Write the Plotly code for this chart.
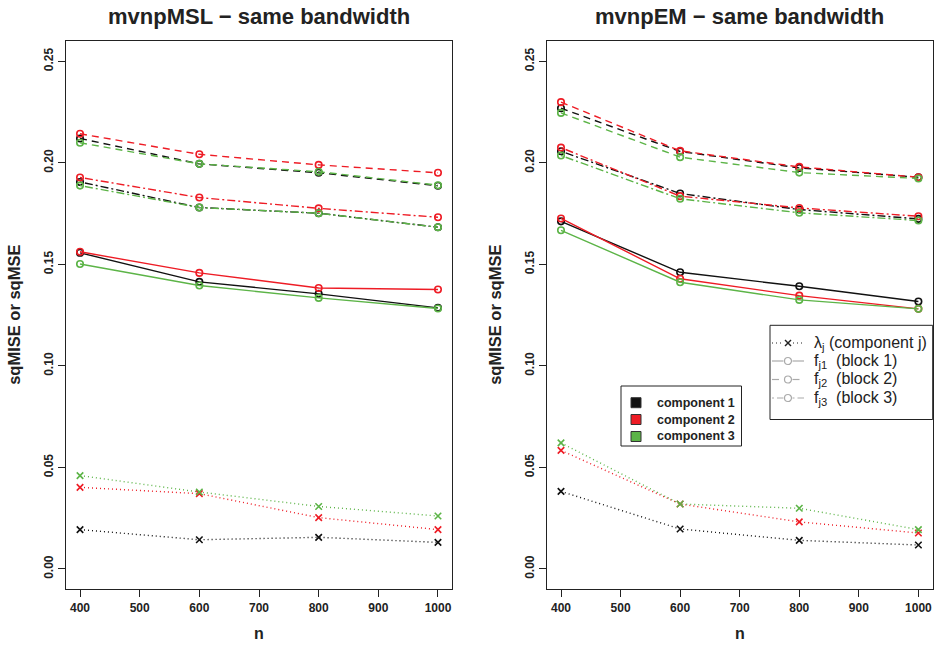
import plotly.graph_objects as go

# sample sizes
n = [400, 600, 800, 1000]

# mvnpMSL, same bandwidth: lambda_j and f_j1..f_j3 errors per component
msl_lambda_c1 = [0.0194, 0.0144, 0.0156, 0.0131]
msl_lambda_c2 = [0.0402, 0.0371, 0.0253, 0.0194]
msl_lambda_c3 = [0.0460, 0.0379, 0.0308, 0.0261]
msl_block1_c1 = [0.1557, 0.1414, 0.1355, 0.1286]
msl_block1_c2 = [0.1562, 0.1458, 0.1384, 0.1376]
msl_block1_c3 = [0.1502, 0.1396, 0.1335, 0.1283]
msl_block2_c1 = [0.2120, 0.1995, 0.1951, 0.1887]
msl_block2_c2 = [0.2143, 0.2042, 0.1990, 0.1951]
msl_block2_c3 = [0.2099, 0.1995, 0.1956, 0.1890]
msl_block3_c1 = [0.1906, 0.1780, 0.1752, 0.1683]
msl_block3_c2 = [0.1928, 0.1829, 0.1776, 0.1732]
msl_block3_c3 = [0.1888, 0.1780, 0.1752, 0.1683]

# mvnpEM, same bandwidth
em_lambda_c1 = [0.0382, 0.0197, 0.0141, 0.0118]
em_lambda_c2 = [0.0584, 0.0320, 0.0232, 0.0177]
em_lambda_c3 = [0.0621, 0.0320, 0.0299, 0.0194]
em_block1_c1 = [0.1712, 0.1461, 0.1392, 0.1317]
em_block1_c2 = [0.1726, 0.1429, 0.1346, 0.1281]
em_block1_c3 = [0.1668, 0.1412, 0.1325, 0.1281]
em_block2_c1 = [0.2269, 0.2056, 0.1975, 0.1929]
em_block2_c2 = [0.2299, 0.2059, 0.1980, 0.1929]
em_block2_c3 = [0.2246, 0.2028, 0.1952, 0.1923]
em_block3_c1 = [0.2057, 0.1849, 0.1770, 0.1724]
em_block3_c2 = [0.2075, 0.1836, 0.1778, 0.1737]
em_block3_c3 = [0.2036, 0.1823, 0.1754, 0.1716]

panel_titles = ["mvnpMSL \u2212 same bandwidth", "mvnpEM \u2212 same bandwidth"]
component_names = ["component 1", "component 2", "component 3"]
block_labels = ["\u03bb<sub>j</sub> (component j)", "f<sub>j1</sub>  (block 1)",
                "f<sub>j2</sub>  (block 2)", "f<sub>j3</sub>  (block 3)"]
y_ticks = [0.00, 0.05, 0.10, 0.15, 0.20, 0.25]
x_ticks = [400, 500, 600, 700, 800, 900, 1000]

COLORS = ["#111111", "#EE1C25", "#5CB447"]
FONT = "Liberation Sans, Arial, Helvetica, sans-serif"
W, H = 935, 649

panels = [
    {"lambda": [msl_lambda_c1, msl_lambda_c2, msl_lambda_c3],
     "b1": [msl_block1_c1, msl_block1_c2, msl_block1_c3],
     "b2": [msl_block2_c1, msl_block2_c2, msl_block2_c3],
     "b3": [msl_block3_c1, msl_block3_c2, msl_block3_c3]},
    {"lambda": [em_lambda_c1, em_lambda_c2, em_lambda_c3],
     "b1": [em_block1_c1, em_block1_c2, em_block1_c3],
     "b2": [em_block2_c1, em_block2_c2, em_block2_c3],
     "b3": [em_block3_c1, em_block3_c2, em_block3_c3]},
]

DASH = {"lambda": "1px,3px", "b1": "solid", "b2": "7px,5px", "b3": "2px,3px,8px,3px"}

fig = go.Figure()

for p, data in enumerate(panels):
    xa = "x" if p == 0 else "x2"
    ya = "y" if p == 0 else "y2"
    for key in ["b1", "b2", "b3", "lambda"]:
        for c in range(3):
            is_lam = key == "lambda"
            fig.add_trace(go.Scatter(
                x=n, y=data[key][c], xaxis=xa, yaxis=ya, mode="lines+markers",
                line=dict(color=COLORS[c], width=1.4, dash=DASH[key]),
                marker=dict(symbol="x-thin-open" if is_lam else "circle-open",
                            size=6.5 if is_lam else 6.5,
                            line=dict(color=COLORS[c], width=1.6)),
                showlegend=False, hoverinfo="skip"))


def px_x(x):
    return x / W


def px_y(y):
    return 1 - y / H


# plot-box geometry (pixels)
boxes = [(65.7, 452.3), (546.7, 932.7)]
top_px, bot_px = 41, 589.3

axis_common = dict(showline=True, mirror=True, linecolor="#222222", linewidth=1,
                   ticks="outside", ticklen=7, tickcolor="#222222", showgrid=False,
                   zeroline=False, tickfont=dict(family=FONT, size=12, color="#222222"))

layout = dict(
    width=W, height=H, margin=dict(l=0, r=0, t=0, b=0),
    paper_bgcolor="white", plot_bgcolor="white", showlegend=False,
)
for p, (l, r) in enumerate(boxes):
    sx = "" if p == 0 else "2"
    layout["xaxis" + sx] = dict(domain=[px_x(l), px_x(r)], range=[376, 1024],
                                tickvals=x_ticks, ticktext=["<b>%d</b>" % v for v in x_ticks],
                                anchor="y" + sx, **axis_common)
    layout["yaxis" + sx] = dict(domain=[px_y(bot_px), px_y(top_px)], range=[-0.01, 0.26],
                                tickvals=y_ticks, ticktext=["<b>%.2f</b>" % v for v in y_ticks],
                                tickangle=-90, anchor="x" + sx, **axis_common)
fig.update_layout(**layout)

annotations = []
shapes = []


def hline(x0, x1, y, color, width, dash):
    shapes.append(dict(type="line", xref="paper", yref="paper",
                       x0=px_x(x0), x1=px_x(x1), y0=px_y(y), y1=px_y(y),
                       line=dict(color=color, width=width, dash=dash), layer="above"))


for p, (l, r) in enumerate(boxes):
    annotations.append(dict(text="<b>%s</b>" % panel_titles[p], x=px_x((l + r) / 2), y=px_y(16),
                            xref="paper", yref="paper", showarrow=False,
                            font=dict(family=FONT, size=22, color="#222222"),
                            xanchor="center", yanchor="middle"))
    annotations.append(dict(text="<b>n</b>", x=px_x((l + r) / 2), y=px_y(633),
                            xref="paper", yref="paper", showarrow=False,
                            font=dict(family=FONT, size=16, color="#222222"),
                            xanchor="center", yanchor="middle"))
    annotations.append(dict(text="<b>sqMISE or sqMSE</b>", x=px_x(l - 52), y=px_y((top_px + bot_px) / 2),
                            xref="paper", yref="paper", showarrow=False, textangle=-90,
                            font=dict(family=FONT, size=16.5, color="#222222"),
                            xanchor="center", yanchor="middle"))

# component legend (left box inside right panel)
shapes.append(dict(type="rect", xref="paper", yref="paper",
                   x0=px_x(621), x1=px_x(741.5), y0=px_y(446), y1=px_y(386),
                   line=dict(color="#222222", width=1), fillcolor="white", layer="above"))
rows1 = [402.7, 419.5, 436.5]
for i, name in enumerate(component_names):
    yy = rows1[i]
    shapes.append(dict(type="rect", xref="paper", yref="paper",
                       x0=px_x(631), x1=px_x(641), y0=px_y(yy + 5), y1=px_y(yy - 5),
                       line=dict(color="#333333", width=1), fillcolor=COLORS[i], layer="above"))
    annotations.append(dict(text="<b>%s</b>" % name, x=px_x(655), y=px_y(yy),
                            xref="paper", yref="paper", showarrow=False,
                            font=dict(family=FONT, size=12.5, color="#222222"),
                            xanchor="left", yanchor="middle"))

# line-type legend (right box inside right panel)
shapes.append(dict(type="rect", xref="paper", yref="paper",
                   x0=px_x(770), x1=px_x(932.7), y0=px_y(419.5), y1=px_y(325.3),
                   line=dict(color="#222222", width=1), fillcolor="white", layer="above"))
rows2 = [343, 361, 379.5, 398]
glyph_styles = [("lambda", "#222222"), ("b1", "#AAAAAA"), ("b2", "#AAAAAA"), ("b3", "#AAAAAA")]
for i, (key, col) in enumerate(glyph_styles):
    yy = rows2[i]
    cx = 788
    if key == "lambda":
        hline(772, 783, yy, col, 1.2, DASH[key])
        hline(793, 804, yy, col, 1.2, DASH[key])
        for dy in (-3, 3):
            shapes.append(dict(type="line", xref="paper", yref="paper",
                               x0=px_x(cx - 3), x1=px_x(cx + 3), y0=px_y(yy - dy), y1=px_y(yy + dy),
                               line=dict(color=col, width=1.4), layer="above"))
    else:
        hline(772, 783.5, yy, col, 1.2, DASH[key])
        hline(792.5, 804, yy, col, 1.2, DASH[key])
        shapes.append(dict(type="circle", xref="paper", yref="paper",
                           x0=px_x(cx - 3.5), x1=px_x(cx + 3.5), y0=px_y(yy + 3.5), y1=px_y(yy - 3.5),
                           line=dict(color=col, width=1.2), layer="above"))
    annotations.append(dict(text=block_labels[i], x=px_x(812), y=px_y(yy),
                            xref="paper", yref="paper", showarrow=False,
                            font=dict(family=FONT, size=16, color="#222222"),
                            xanchor="left", yanchor="middle"))

fig.update_layout(annotations=annotations, shapes=shapes)
fig.write_html("out.html")
